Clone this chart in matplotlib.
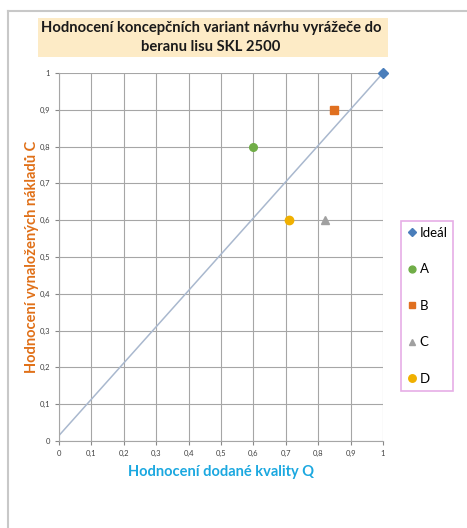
import matplotlib
matplotlib.use("Agg")
import matplotlib.pyplot as plt
from matplotlib.patches import Rectangle
from matplotlib.lines import Line2D

# variant scores: Q = delivered quality, C = spent costs
variants = ["Ideál", "A", "B", "C", "D"]
q_scores = [1.0, 0.60, 0.85, 0.82, 0.71]
c_scores = [1.0, 0.80, 0.90, 0.60, 0.60]
markers = ["D", "o", "s", "^", "o"]
colors = ["#4A7EBB", "#70AD47", "#E07020", "#A0A0A0", "#F0B000"]
sizes = [5, 5.5, 5.5, 5.5, 6]

# reference line of balanced variants
line_q = [0.0, 1.0]
line_c = [0.015, 1.0]

ticks = [i / 10 for i in range(11)]
tick_labels = ["0"] + [f"0,{i}" for i in range(1, 10)] + ["1"]

W, H = 467, 528
fig = plt.figure(figsize=(W / 100, H / 100), dpi=100)
plt.rcParams["font.family"] = ["Lato", "DejaVu Sans"]

# outer chart frame (open to the right and bottom)
fig.add_artist(Line2D([8 / W, 8 / W], [0, 1 - 11 / H], color="#C8C8C8", lw=1.5,
                      transform=fig.transFigure))
fig.add_artist(Line2D([8 / W, 1], [1 - 11 / H, 1 - 11 / H], color="#C8C8C8", lw=1.5,
                      transform=fig.transFigure))

ax = fig.add_axes([59 / W, 1 - 441 / H, (383 - 59) / W, (441 - 73) / H])
ax.set_xlim(0, 1)
ax.set_ylim(0, 1)
ax.set_xticks(ticks, labels=tick_labels)
ax.set_yticks(ticks, labels=tick_labels)
ax.tick_params(labelsize=5.5, colors="#888888", labelcolor="#404040", length=3, width=0.8)
ax.grid(True, color="#A6A6A6", lw=0.8)
ax.set_axisbelow(True)
for side in ["top", "right"]:
    ax.spines[side].set_visible(False)
for side in ["left", "bottom"]:
    ax.spines[side].set_color("#A6A6A6")

ax.plot(line_q, line_c, color="#A9B8CE", lw=1.1, zorder=2)

for name, q, c, m, col, ms in zip(variants, q_scores, c_scores, markers, colors, sizes):
    ax.plot(q, c, ls="none", marker=m, ms=ms, color=col, mec=col, label=name,
            zorder=3, clip_on=False)

ax.set_xlabel("Hodnocení dodané kvality Q", fontsize=10.5, fontweight="bold",
              color="#1BA8E0", labelpad=6)
ax.set_ylabel("Hodnocení vynaložených nákladů C", fontsize=10.5, fontweight="bold",
              color="#E07018", labelpad=0)

# title in a shaded box
fig.add_artist(Rectangle((38 / W, 1 - 57 / H), (388 - 38) / W, (57 - 18) / H,
                         transform=fig.transFigure, facecolor="#FDEBC6",
                         edgecolor="none"))
fig.text(211 / W, 1 - 37.5 / H,
         "Hodnocení koncepčních variant návrhu vyrážeče do\nberanu lisu SKL 2500",
         ha="center", va="center", fontsize=10.6, fontweight="bold",
         color="#1A1A1A", linespacing=1.4)

leg = fig.legend(loc="upper left", bbox_to_anchor=(401 / W, 1 - 221 / H),
                 bbox_transform=fig.transFigure, borderaxespad=0, fontsize=9.5,
                 labelspacing=1.85, handletextpad=0.15, handlelength=0.8,
                 borderpad=0.45, markerscale=0.9, fancybox=False, frameon=True)
leg.get_frame().set_edgecolor("#E09AE0")
leg.get_frame().set_linewidth(1.2)

fig.savefig("out.png", dpi=100)
